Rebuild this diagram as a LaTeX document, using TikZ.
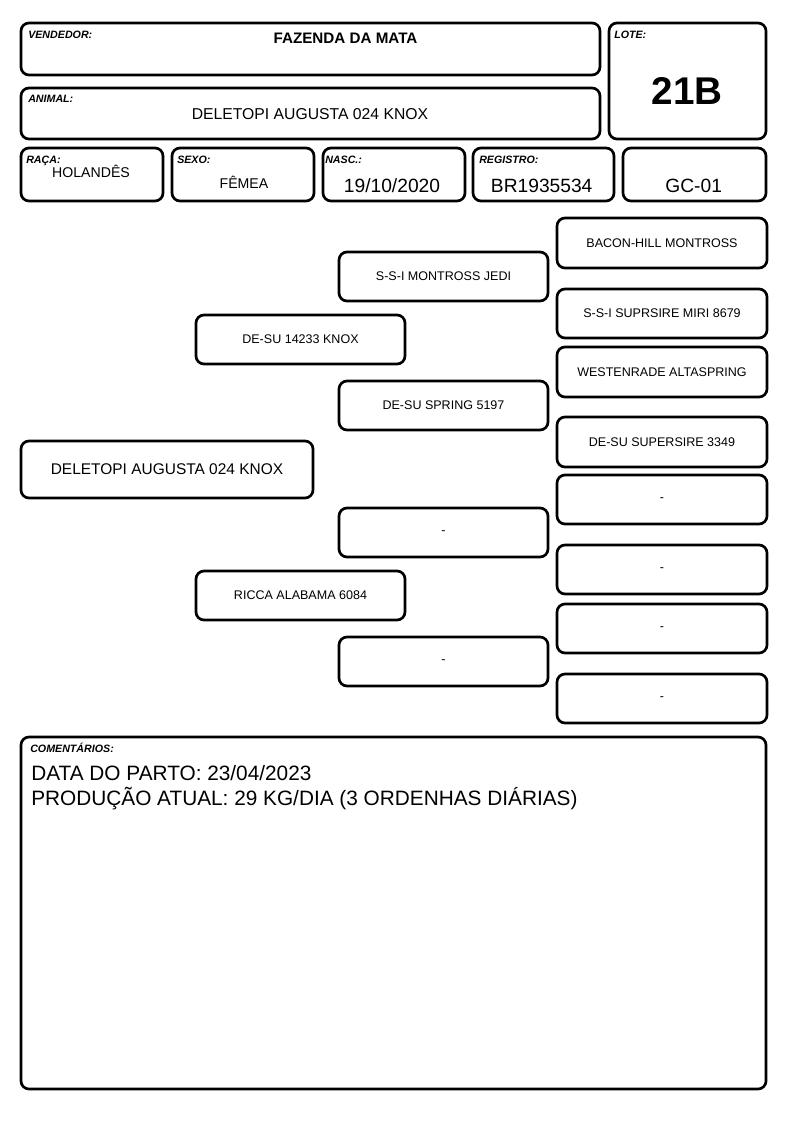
\documentclass[tikz,border=0pt]{standalone}
\usepackage{fontspec}
\setmainfont{Liberation Sans}
\newcommand\rbox[7]{%
  \node[box,#6,minimum width={(#4-#2)*0.75pt},minimum height={(#5-#3)*0.75pt}] (#1) at ({(#2+#4)/2},{(#3+#5)/2}) {#7};}
\begin{document}
\begin{tikzpicture}[x=0.75pt,y=-0.75pt,
  box/.style={draw,line width=2pt,rounded corners=6pt,inner sep=0pt,outer sep=0pt,align=center},
  lab/.style={anchor=base west,inner sep=0pt,font=\fontsize{8}{9}\selectfont\bfseries\itshape},
  val/.style={anchor=base,inner sep=0pt},
  ped/.style={font=\fontsize{9.4}{11}\selectfont},
  pedmain/.style={font=\fontsize{11.6}{13}\selectfont}]
\useasboundingbox[fill=white] (0,0) rectangle (794,1123);
% header boxes
\rbox{vend}{21}{23}{600}{75}{}{}
\rbox{anim}{21}{88}{600}{139}{}{}
\rbox{lote}{609}{23}{766}{139}{}{}
\rbox{raca}{21}{148}{163}{201}{}{}
\rbox{sexo}{172}{148}{314}{201}{}{}
\rbox{nasc}{323}{148}{465}{201}{}{}
\rbox{reg}{473}{148}{614}{201}{}{}
\rbox{gc}{623}{148}{766}{201}{}{}
% labels
\node[lab] (lvend) at (28,39) {VENDEDOR:};
\node[lab] (lanim) at (28,103) {ANIMAL:};
\node[lab] (llote) at (614,39) {LOTE:};
\node[lab] (lraca) at (26,164) {RAÇA:};
\node[lab] (lsexo) at (177,164) {SEXO:};
\node[lab] (lnasc) at (325,164) {NASC.:};
\node[lab] (lreg) at (479,164) {REGISTRO:};
% values
\node[val,font=\fontsize{11.4}{13}\selectfont\bfseries] (vvend) at (345.5,43.5) {FAZENDA DA MATA};
\node[val,font=\fontsize{11.8}{13}\selectfont] (vanim) at (310,120) {DELETOPI AUGUSTA 024 KNOX};
\node[val,font=\fontsize{29}{32}\selectfont\bfseries] (vlote) at (687,105) {21B};
\node[val,font=\fontsize{10.6}{12}\selectfont] (vraca) at (91,178) {HOLANDÊS};
\node[val,font=\fontsize{10.6}{12}\selectfont] (vsexo) at (244,189) {FÊMEA};
\node[val,font=\fontsize{14.4}{16}\selectfont] (vnasc) at (392,193) {19/10/2020};
\node[val,font=\fontsize{14.4}{16}\selectfont] (vreg) at (541.7,193) {BR1935534};
\node[val,font=\fontsize{14.4}{16}\selectfont] (vgc) at (693.7,193) {GC-01};
% pedigree
\rbox{p0}{21}{441}{313}{498}{pedmain}{DELETOPI AUGUSTA 024 KNOX}
\rbox{p1}{196}{315}{405}{364}{ped}{DE-SU 14233 KNOX}
\rbox{p2}{196}{571}{405}{620}{ped}{RICCA ALABAMA 6084}
\rbox{p11}{339}{252}{548}{301}{ped}{S-S-I MONTROSS JEDI}
\rbox{p12}{339}{381}{548}{430}{ped}{DE-SU SPRING 5197}
\rbox{p21}{339}{508}{548}{557}{ped}{-}
\rbox{p22}{339}{637}{548}{686}{ped}{-}
\rbox{g1}{557}{218}{767}{268}{ped}{BACON-HILL MONTROSS}
\rbox{g2}{557}{289}{767}{338}{ped}{S-S-I SUPRSIRE MIRI 8679}
\rbox{g3}{557}{347}{767}{397}{ped}{WESTENRADE ALTASPRING}
\rbox{g4}{557}{417}{767}{467}{ped}{DE-SU SUPERSIRE 3349}
\rbox{g5}{557}{475}{767}{524}{ped}{-}
\rbox{g6}{557}{545}{767}{594}{ped}{-}
\rbox{g7}{557}{604}{767}{653}{ped}{-}
\rbox{g8}{557}{674}{767}{723}{ped}{-}
% comments
\rbox{com}{21}{737}{766}{1089}{}{}
\node[lab] (lcom) at (30,752) {COMENTÁRIOS:};
\node[anchor=base west,inner sep=0pt,font=\fontsize{15.6}{18.75}\selectfont] (c1) at (31,780) {DATA DO PARTO: 23/04/2023};
\node[anchor=base west,inner sep=0pt,font=\fontsize{15.6}{18.75}\selectfont] (c2) at (31,805) {PRODUÇÃO ATUAL: 29 KG/DIA (3 ORDENHAS DIÁRIAS)};
\end{tikzpicture}
\end{document}
